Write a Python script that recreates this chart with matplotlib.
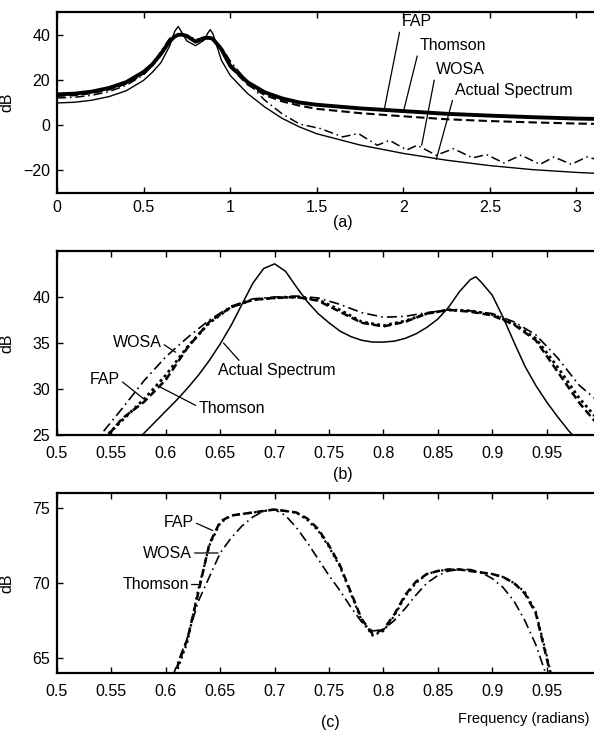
import matplotlib
matplotlib.use("Agg")
import matplotlib.pyplot as plt

plt.rcParams['font.family'] = ['Liberation Sans Narrow', 'Liberation Sans', 'DejaVu Sans']
plt.rcParams['font.size'] = 11.5

# ---- panel (a): full band 0..pi ----
freq_a = [0, 0.1, 0.2, 0.3, 0.4, 0.5, 0.55, 0.6, 0.65, 0.68, 0.7, 0.72, 0.75, 0.8,
          0.85, 0.87, 0.885, 0.9, 0.95, 1.0, 1.1, 1.2, 1.3, 1.4, 1.5, 1.75, 2.0,
          2.25, 2.5, 2.75, 3.0, 3.1416]
actual_a = [9.8, 10.1, 11.0, 12.6, 15.2, 19.8, 23.3, 27.6, 34.9, 41.5, 43.6, 41.1, 37.2, 35.1,
            37.6, 40.6, 42.2, 40.4, 28.6, 22.0, 14.0, 8.0, 3.0, -0.8, -3.8, -8.8, -12.5,
            -15.5, -17.9, -19.7, -20.9, -21.4]
fap_a = [13.6, 13.9, 14.8, 16.4, 19.0, 23.5, 26.8, 31.5, 37.0, 39.2, 39.9, 40.0, 39.4, 36.9,
         38.5, 38.6, 38.5, 38.1, 33.5, 26.3, 19.0, 14.5, 11.8, 10.0, 9.0, 7.4, 6.2,
         5.0, 4.2, 3.5, 2.9, 2.7]
thomson_a = [12.9, 13.2, 14.1, 15.7, 18.3, 22.8, 26.5, 31.0, 37.5, 39.3, 39.9, 40.0, 39.3, 36.8,
             38.4, 38.5, 38.4, 38.0, 33.0, 25.7, 18.0, 13.3, 10.5, 8.6, 7.2, 5.3, 3.9,
             2.6, 1.8, 1.2, 0.7, 0.5]
freq_wosa_a = [0, 0.1, 0.2, 0.3, 0.4, 0.5, 0.55, 0.6, 0.65, 0.7, 0.75, 0.8, 0.85, 0.9, 0.95,
               1.0, 1.1, 1.2, 1.3, 1.4, 1.52, 1.65, 1.74, 1.85, 1.92, 2.02, 2.08, 2.19,
               2.29, 2.40, 2.48, 2.58, 2.68, 2.79, 2.87, 2.97, 3.06, 3.1416]
wosa_a = [12.0, 12.3, 13.2, 14.8, 17.6, 22.2, 26.3, 32.7, 38.3, 40.0, 39.8, 37.8, 38.5, 38.2, 34.4,
          28.4, 19.0, 11.0, 5.0, 0.5, -1.5, -5.2, -3.7, -8.9, -6.7, -11.0, -8.9, -13.3,
          -10.4, -14.5, -13.0, -16.7, -13.3, -17.3, -14.1, -17.3, -14.1, -15.6]

# ---- panel (b): zoom 0.5..1 ----
freq_b_act = [0.57, 0.58, 0.59, 0.60, 0.61, 0.62, 0.63, 0.64, 0.65, 0.66, 0.67, 0.68, 0.69,
              0.70, 0.71, 0.72, 0.73, 0.74, 0.75, 0.76, 0.77, 0.78, 0.79, 0.80, 0.81, 0.82,
              0.83, 0.84, 0.85, 0.86, 0.87, 0.88, 0.885, 0.89, 0.90, 0.91, 0.92, 0.93, 0.94,
              0.95, 0.96, 0.97, 0.98]
actual_b = [23.9, 25.2, 26.4, 27.6, 28.8, 30.1, 31.5, 33.1, 34.9, 36.9, 39.2, 41.5, 43.1,
            43.6, 42.8, 41.1, 39.5, 38.2, 37.2, 36.3, 35.7, 35.3, 35.1, 35.1, 35.2, 35.5,
            36.0, 36.7, 37.6, 38.9, 40.6, 41.9, 42.2, 41.6, 40.2, 37.8, 35.1, 32.5, 30.4,
            28.6, 27.0, 25.5, 24.2]
freq_b = [0.52, 0.54, 0.56, 0.58, 0.60, 0.62, 0.64, 0.66, 0.68, 0.70, 0.72, 0.74, 0.76,
          0.78, 0.80, 0.82, 0.84, 0.86, 0.88, 0.90, 0.92, 0.94, 0.96, 0.98, 1.00]
wosa_b = [22.0, 25.0, 27.9, 30.9, 33.5, 35.6, 37.5, 39.0, 39.8, 40.0, 40.1, 39.9, 39.2,
          38.3, 37.8, 37.9, 38.3, 38.6, 38.5, 38.2, 37.3, 35.9, 33.4, 30.4, 28.4]
thomson_b = [21.5, 24.0, 26.8, 28.6, 31.0, 34.5, 37.3, 38.9, 39.7, 39.9, 40.0, 39.6, 38.4,
             37.2, 36.8, 37.3, 38.2, 38.6, 38.4, 38.0, 37.0, 35.3, 31.9, 28.5, 25.7]
fap_b = [21.8, 24.3, 26.6, 28.9, 31.5, 34.6, 37.2, 38.9, 39.7, 39.9, 40.0, 39.7, 38.6,
         37.3, 36.9, 37.4, 38.2, 38.6, 38.5, 38.1, 37.1, 35.5, 32.4, 29.0, 26.3]

# ---- panel (c): second spectrum ----
freq_c = [0.60, 0.61, 0.62, 0.63, 0.64, 0.65, 0.66, 0.67, 0.68, 0.69, 0.70, 0.71, 0.72,
          0.73, 0.74, 0.75, 0.76, 0.77, 0.78, 0.79, 0.80, 0.81, 0.82, 0.83, 0.84, 0.85,
          0.86, 0.87, 0.88, 0.89, 0.90, 0.91, 0.92, 0.93, 0.94, 0.95, 0.955]
fap_c = [62.0, 64.3, 66.3, 69.4, 72.6, 74.1, 74.5, 74.6, 74.7, 74.8, 74.9, 74.8, 74.7,
         74.3, 73.6, 72.5, 71.2, 69.4, 67.6, 66.6, 66.9, 67.9, 69.2, 70.1, 70.6, 70.8,
         70.9, 70.9, 70.8, 70.7, 70.6, 70.4, 70.0, 69.3, 68.0, 65.0, 63.5]
thomson_c = [61.8, 64.1, 66.1, 69.6, 72.5, 74.0, 74.5, 74.6, 74.7, 74.8, 74.9, 74.8, 74.7,
             74.2, 73.5, 72.4, 71.1, 69.3, 67.5, 66.5, 66.8, 67.8, 69.1, 70.0, 70.6, 70.8,
             70.9, 70.9, 70.8, 70.7, 70.6, 70.4, 70.0, 69.4, 68.1, 65.2, 63.6]
wosa_c = [62.5, 64.5, 66.4, 68.8, 70.4, 72.0, 73.0, 73.8, 74.4, 74.8, 74.9, 74.5, 73.7,
          72.7, 71.6, 70.5, 69.5, 68.4, 67.4, 66.8, 66.9, 67.5, 68.3, 69.2, 70.0, 70.5,
          70.8, 70.9, 70.9, 70.7, 70.3, 69.7, 68.8, 67.5, 65.9, 63.8, 62.5]

W, H = 594, 734
fig = plt.figure(figsize=(W / 100, H / 100), dpi=100)


def box(top, bottom):
    # pixel box -> figure fraction (right side runs past the crop like the scan)
    return [57 / W, (H - bottom) / H, 544 / W, (bottom - top) / H]


def style(ax, xpad):
    ax.tick_params(direction='in', top=True, right=True, length=4, width=1,
                   labelsize=11.5, pad=5)
    ax.tick_params(axis='x', pad=xpad)
    for s in ax.spines.values():
        s.set_linewidth(1.6)
    ax.set_ylabel('dB', fontsize=11.5)
    ax.yaxis.set_label_coords(-0.079, 0.5)


arr = dict(arrowstyle='-', lw=0.9, color='k', shrinkA=0, shrinkB=0)

# (a)
ax1 = fig.add_axes(box(12, 193))
ax1.plot(freq_a, actual_a, color='k', lw=1.0)
ax1.plot(freq_wosa_a, wosa_a, color='k', lw=1.1, linestyle=(0, (6, 2.5, 1, 2.5)))
ax1.plot(freq_a, thomson_a, color='k', lw=1.5, linestyle=(0, (4, 2)))
ax1.plot(freq_a, fap_a, color='k', lw=2.8)
ax1.set_xlim(0, 3.1416)
ax1.set_ylim(-30, 50)
ax1.set_xticks([0, 0.5, 1, 1.5, 2, 2.5, 3])
ax1.set_xticklabels(['0', '0.5', '1', '1.5', '2', '2.5', '3'])
ax1.set_yticks([-20, 0, 20, 40])
ax1.set_yticklabels(['\u221220', '0', '20', '40'])
style(ax1, 5)
ax1.annotate('FAP', xy=(1.89, 6.9), xytext=(1.99, 45.6), ha='left', va='center',
             arrowprops=dict(arr, relpos=(0, 0.5)))
ax1.annotate('Thomson', xy=(2.0, 5.8), xytext=(2.095, 35.1), ha='left', va='center',
             arrowprops=dict(arr, relpos=(0, 0.5)))
ax1.annotate('WOSA', xy=(2.106, -8.9), xytext=(2.19, 24.4), ha='left', va='center',
             arrowprops=dict(arr, relpos=(0, 0.5)))
ax1.annotate('Actual Spectrum', xy=(2.19, -15.2), xytext=(2.30, 15.4), ha='left', va='center',
             arrowprops=dict(arr, relpos=(0, 0.5)))
fig.text(343 / W, 1 - 222 / H, '(a)', ha='center', va='center', fontsize=11.5)

# (b)
ax2 = fig.add_axes(box(251, 435))
ax2.plot(freq_b_act, actual_b, color='k', lw=1.1)
ax2.plot(freq_b, wosa_b, color='k', lw=1.2, linestyle=(0, (6, 2.5, 1, 2.5)))
ax2.plot(freq_b, thomson_b, color='k', lw=1.8, linestyle=(0, (3, 1.5)))
ax2.plot(freq_b, fap_b, color='k', lw=2.0, linestyle=(0, (1, 1.2)))
ax2.set_xlim(0.5, 1.0)
ax2.set_ylim(25, 45)
ax2.set_xticks([0.5, 0.55, 0.6, 0.65, 0.7, 0.75, 0.8, 0.85, 0.9, 0.95])
ax2.set_xticklabels(['0.5', '0.55', '0.6', '0.65', '0.7', '0.75', '0.8', '0.85', '0.9', '0.95'])
ax2.set_yticks([25, 30, 35, 40])
style(ax2, 8)
ax2.annotate('WOSA', xy=(0.609, 34.0), xytext=(0.551, 35.0), ha='left', va='center',
             arrowprops=dict(arr, relpos=(1, 0.5)))
ax2.annotate('FAP', xy=(0.579, 29.0), xytext=(0.530, 31.0), ha='left', va='center',
             arrowprops=dict(arr, relpos=(1, 0.5)))
ax2.annotate('Thomson', xy=(0.595, 30.2), xytext=(0.630, 27.9), ha='left', va='center',
             arrowprops=dict(arr, relpos=(0, 0.6)))
ax2.annotate('Actual Spectrum', xy=(0.653, 35.0), xytext=(0.648, 32.0), ha='left', va='center',
             arrowprops=dict(arr, relpos=(0.2, 1)))
fig.text(343 / W, 1 - 475 / H, '(b)', ha='center', va='center', fontsize=11.5)

# (c)
ax3 = fig.add_axes(box(493, 673))
ax3.plot(freq_c, wosa_c, color='k', lw=1.2, linestyle=(0, (6, 2.5, 1, 2.5)))
ax3.plot(freq_c, thomson_c, color='k', lw=1.6, linestyle=(0, (1, 1.5)))
ax3.plot(freq_c, fap_c, color='k', lw=1.8, linestyle=(0, (3, 1.8)))
ax3.set_xlim(0.5, 1.0)
ax3.set_ylim(64, 76)
ax3.set_xticks([0.5, 0.55, 0.6, 0.65, 0.7, 0.75, 0.8, 0.85, 0.9, 0.95])
ax3.set_xticklabels(['0.5', '0.55', '0.6', '0.65', '0.7', '0.75', '0.8', '0.85', '0.9', '0.95'])
ax3.set_yticks([65, 70, 75])
style(ax3, 8)
ax3.annotate('FAP', xy=(0.643, 73.5), xytext=(0.598, 74.06), ha='left', va='center',
             arrowprops=dict(arr, relpos=(1, 0.5)))
ax3.annotate('WOSA', xy=(0.648, 72.0), xytext=(0.579, 72.0), ha='left', va='center',
             arrowprops=dict(arr, relpos=(1, 0.5)))
ax3.annotate('Thomson', xy=(0.630, 69.9), xytext=(0.560, 69.9), ha='left', va='center',
             arrowprops=dict(arr, relpos=(1, 0.5)))
fig.text(330 / W, 1 - 722 / H, '(c)', ha='center', va='center', fontsize=11.5)
fig.text(589 / W, 1 - 719 / H, 'Frequency (radians)', ha='right', va='center', fontsize=10.5)

fig.savefig('out.png', dpi=100)
